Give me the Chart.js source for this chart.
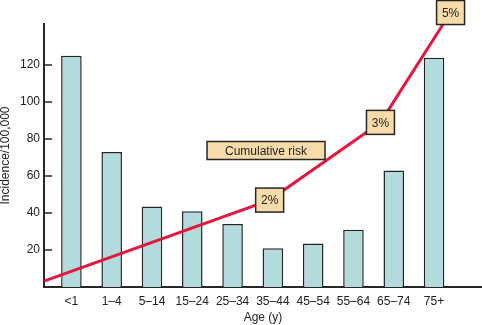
<!DOCTYPE html>
<html>
<head>
<meta charset="utf-8">
<script src="https://cdn.jsdelivr.net/npm/chart.js@4.4.1/dist/chart.umd.min.js"></script>
<style>
    html, body { margin: 0; padding: 0; background: #fff; }
    canvas { display: block; }
</style>
</head>
<body>
<canvas id="chart" width="482" height="325"></canvas>
<script>

// Age Groups
const ageLabels = ['<1', '1–4', '5–14', '15–24', '25–34', '35–44', '45–54', '55–64', '65–74', '75+'];

// Incidence / 100,000
const incidence = [125, 73, 43.5, 41, 34, 21, 23.5, 31, 63, 124];

// Cumulative Risk (x = age group index)
const riskX = [-0.68, 4.92, 7.67, 9.41];
const riskY = [3.2, 47, 89, 148.4];
const riskLabels = ['', '2%', '3%', '5%'];

// Y Ticks
const yTicks = [20, 40, 60, 80, 100, 120];

// Colors
const ink = '#262626';
const boxFill = '#f7dcaa';
const fontFamily = '"Liberation Sans", Arial, sans-serif';

// Draw Box
const drawBox = function (ctx, cx, cy, w, h, text) {
    ctx.fillStyle = boxFill;
    ctx.strokeStyle = ink;
    ctx.lineWidth = 1.5;
    ctx.fillRect(cx - w / 2, cy - h / 2, w, h);
    ctx.strokeRect(cx - w / 2, cy - h / 2, w, h);
    ctx.fillStyle = '#222';
    ctx.font = '12px ' + fontFamily;
    ctx.textAlign = 'center';
    ctx.textBaseline = 'middle';
    ctx.fillText(text, cx, cy + 1);
};

// Extra Drawing
const riskBoxes = {
    id: 'riskBoxes',
    afterDatasetsDraw(chart) {

        const ctx = chart.ctx;
        const xs = chart.scales.x;
        const ys = chart.scales.y;
        const area = chart.chartArea;

        ctx.save();

        // Inner Ticks
        ctx.strokeStyle = ink;
        ctx.lineWidth = 1.5;
        for (const v of yTicks) {
            const py = Math.round(ys.getPixelForValue(v));
            ctx.beginPath();
            ctx.moveTo(area.left, py);
            ctx.lineTo(area.left + 8, py);
            ctx.stroke();
        }

        // Percent Boxes
        for (let i = 0; i < riskLabels.length; i++) {
            if (!riskLabels[i]) { continue; }
            drawBox(ctx, xs.getPixelForValue(riskX[i]), ys.getPixelForValue(riskY[i]), 28, 24, riskLabels[i]);
        }

        // Legend Box
        drawBox(ctx, xs.getPixelForValue(4.83), ys.getPixelForValue(73.8), 118, 18, 'Cumulative risk');

        ctx.restore();

    }
};

// Create Chart
const ctx = document.getElementById('chart').getContext('2d');
new Chart(ctx, {
    type: 'bar',
    data: {
        datasets: [

            // Cumulative Risk
            {
                type: 'line',
                data: riskX.map((x, i) => ({ x: x, y: riskY[i] })),
                borderColor: '#e4173e',
                borderWidth: 3,
                pointRadius: 0,
                tension: 0,
                clip: false,
                order: 0
            },

            // Incidence
            {
                data: incidence.map((v, i) => ({ x: i, y: v })),
                backgroundColor: '#b3dbdd',
                borderColor: ink,
                borderWidth: 1.5,
                barPercentage: 0.51,
                categoryPercentage: 1,
                order: 1
            }
        ]
    },
    options: {
        responsive: false,
        animation: false,
        devicePixelRatio: 1,
        layout: { padding: { top: 24, right: 0, left: 0, bottom: 0 } },
        plugins: {
            legend: { display: false },
            tooltip: { enabled: false }
        },
        scales: {
            x: {
                type: 'linear',
                offset: false,
                min: -0.68,
                max: 10.19,
                grid: { display: false, drawTicks: false },
                border: { display: true, color: ink, width: 2 },
                afterBuildTicks: function (scale) {
                    scale.ticks = ageLabels.map((l, i) => ({ value: i }));
                },
                afterFit: function (scale) { scale.height = 38; },
                ticks: {
                    autoSkip: false,
                    maxRotation: 0,
                    padding: 7,
                    color: '#222',
                    font: { family: fontFamily, size: 12 },
                    callback: function (value) { return ageLabels[value]; }
                },
                title: {
                    display: true,
                    text: 'Age (y)',
                    color: '#222',
                    padding: 0,
                    font: { family: fontFamily, size: 12 }
                }
            },
            y: {
                min: 0,
                max: 142.2,
                grid: { display: false, drawTicks: false },
                border: { display: true, color: ink, width: 2 },
                afterBuildTicks: function (scale) {
                    scale.ticks = yTicks.map((v) => ({ value: v }));
                },
                afterFit: function (scale) { scale.width = 44; },
                ticks: {
                    padding: 4,
                    color: '#222',
                    font: { family: fontFamily, size: 12 }
                },
                title: {
                    display: true,
                    text: 'Incidence/100,000',
                    color: '#222',
                    padding: 0,
                    font: { family: fontFamily, size: 12, lineHeight: 1 }
                }
            }
        }
    },
    plugins: [riskBoxes]
});

</script>
</body>
</html>
